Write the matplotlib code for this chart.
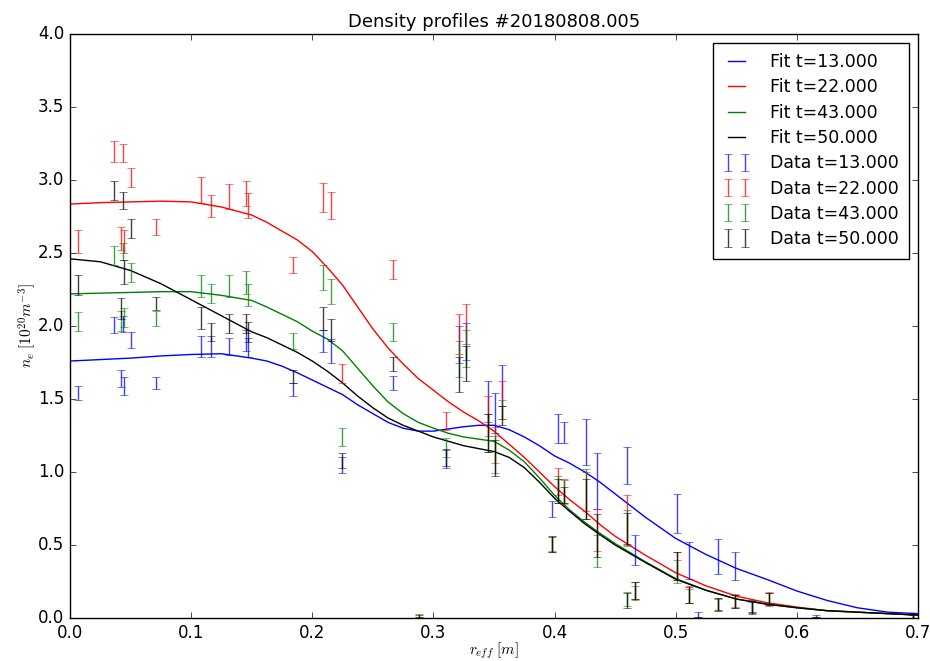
import numpy as np
import matplotlib
matplotlib.use('Agg')
import matplotlib.pyplot as plt

nan = np.nan

# channel positions (r_eff in m)
r_data = [0.0066, 0.0363, 0.0417, 0.0440, 0.0447, 0.0504, 0.0707, 0.108, 0.116, 0.1315,
          0.145, 0.147, 0.184, 0.209, 0.2155, 0.2243, 0.2664, 0.288, 0.310, 0.321,
          0.327, 0.345, 0.351, 0.357, 0.398, 0.403, 0.408, 0.426, 0.435, 0.4595,
          0.460, 0.466, 0.501, 0.511, 0.518, 0.535, 0.549, 0.563, 0.577, 0.616, 0.696]

# measured density and error for each time
ne_13 = [1.54, 2.005, 1.64, 2.015, 1.59, 1.905, 1.61, 1.86, 1.86, 1.86,
         1.90, 1.855, 1.565, 1.895, 1.83, 1.045, 1.61, 0.005, 1.09, 1.875,
         1.895, 1.48, 1.405, 1.59, 0.745, 1.30, 1.27, 1.205, 0.94, nan,
         1.045, 0.465, 0.715, 0.395, 0.02, 0.42, 0.355, 0.07, nan, 0.01, 0.01]
err_13 = [0.05, 0.055, 0.06, 0.055, 0.06, 0.055, 0.04, 0.07, 0.07, 0.06,
          0.07, 0.065, 0.045, 0.075, 0.08, 0.055, 0.05, 0.005, 0.06, 0.125,
          0.125, 0.14, 0.135, 0.14, 0.055, 0.10, 0.07, 0.155, 0.19, nan,
          0.125, 0.105, 0.135, 0.125, 0.02, 0.12, 0.095, 0.04, nan, 0.008, 0.008]

ne_22 = [2.58, 3.195, 2.60, 3.185, 2.58, 3.015, 2.675, 2.93, 2.825, 2.885,
         2.905, 2.825, 2.415, 2.88, 2.825, 1.675, 2.385, 0.005, 1.35, 1.945,
         2.015, 1.385, 1.185, 1.49, 0.505, 0.935, 0.865, 0.865, 0.605, nan,
         0.67, 0.19, 0.355, 0.16, 0.005, 0.095, 0.12, 0.08, 0.13, 0.005, 0.01]
err_22 = [0.08, 0.075, 0.08, 0.065, 0.08, 0.065, 0.055, 0.09, 0.075, 0.085,
          0.085, 0.085, 0.055, 0.10, 0.095, 0.065, 0.065, 0.005, 0.06, 0.135,
          0.135, 0.135, 0.125, 0.13, 0.055, 0.095, 0.085, 0.135, 0.145, nan,
          0.17, 0.06, 0.095, 0.06, 0.005, 0.045, 0.045, 0.04, 0.05, 0.005, 0.008]

ne_43 = [2.03, 2.485, 2.035, 2.51, 2.06, 2.365, 2.05, 2.275, 2.225, 2.275,
         2.30, 2.215, 1.895, 2.335, 2.235, 1.24, 1.96, 0.02, 1.165, 1.775,
         1.845, 1.27, 1.12, 1.425, 0.51, 0.88, 0.865, 0.85, 0.46, 0.13,
         0.615, 0.17, 0.32, 0.15, nan, 0.09, 0.115, 0.08, 0.13, 0.005, 0.01]
err_43 = [0.065, 0.065, 0.07, 0.06, 0.065, 0.065, 0.05, 0.075, 0.065, 0.075,
          0.08, 0.075, 0.055, 0.085, 0.085, 0.06, 0.06, 0.01, 0.065, 0.125,
          0.125, 0.13, 0.13, 0.065, 0.05, 0.09, 0.08, 0.17, 0.11, 0.05,
          0.125, 0.05, 0.08, 0.05, nan, 0.04, 0.045, 0.04, 0.04, 0.005, 0.008]

ne_50 = [2.28, 2.925, 2.12, 2.86, 2.37, 2.665, 2.155, 2.055, 1.96, 2.015,
         2.015, 1.96, 1.655, 2.05, 1.975, 1.08, 1.74, 0.01, 1.10, 1.67,
         1.74, 1.27, 1.095, 1.385, 0.505, 0.87, 0.845, 0.815, 0.565, 0.12,
         0.615, 0.19, 0.355, 0.155, 0.005, 0.095, 0.115, 0.075, 0.13, 0.005, 0.01]
err_50 = [0.07, 0.065, 0.07, 0.06, 0.08, 0.065, 0.045, 0.075, 0.06, 0.065,
          0.065, 0.07, 0.045, 0.08, 0.075, 0.05, 0.05, 0.01, 0.06, 0.12,
          0.12, 0.13, 0.125, 0.065, 0.05, 0.08, 0.055, 0.135, 0.145, 0.05,
          0.105, 0.06, 0.095, 0.055, 0.005, 0.04, 0.045, 0.04, 0.04, 0.005, 0.008]

# fitted profiles
r_fit = [0.0, 0.025, 0.05, 0.075, 0.1, 0.125,
         0.15, 0.1625, 0.175, 0.1875, 0.2, 0.2125, 0.225, 0.2375, 0.25, 0.2625,
         0.275, 0.2875, 0.3, 0.3125, 0.325, 0.3375, 0.35, 0.3625, 0.375, 0.3875,
         0.4, 0.4125, 0.425, 0.4375, 0.45,
         0.475, 0.5, 0.525, 0.55, 0.575, 0.6, 0.625, 0.65, 0.675, 0.7]
fit_13 = [1.76, 1.77, 1.78, 1.795, 1.805, 1.81,
          1.78, 1.76, 1.725, 1.68, 1.63, 1.58, 1.53, 1.46, 1.40, 1.34,
          1.30, 1.28, 1.28, 1.295, 1.31, 1.32, 1.32, 1.29, 1.24, 1.18,
          1.11, 1.06, 1.0, 0.93, 0.85,
          0.69, 0.545, 0.435, 0.34, 0.265, 0.185, 0.12, 0.07, 0.04, 0.03]
fit_22 = [2.835, 2.845, 2.85, 2.855, 2.85, 2.815,
          2.76, 2.71, 2.65, 2.59, 2.51, 2.40, 2.28, 2.13, 1.98, 1.85,
          1.74, 1.64, 1.56, 1.48, 1.41, 1.35, 1.28, 1.19, 1.10, 1.0,
          0.90, 0.81, 0.73, 0.64, 0.56,
          0.43, 0.31, 0.22, 0.15, 0.105, 0.075, 0.05, 0.04, 0.03, 0.02]
fit_43 = [2.22, 2.225, 2.23, 2.235, 2.235, 2.21,
          2.175, 2.13, 2.08, 2.03, 1.965, 1.91, 1.83, 1.71, 1.59, 1.48,
          1.40, 1.34, 1.30, 1.265, 1.24, 1.225, 1.21, 1.15, 1.07, 0.96,
          0.84, 0.74, 0.655, 0.58, 0.51,
          0.385, 0.27, 0.19, 0.13, 0.095, 0.07, 0.05, 0.04, 0.03, 0.02]
fit_50 = [2.46, 2.44, 2.38, 2.29, 2.18, 2.07,
          1.96, 1.92, 1.87, 1.82, 1.76, 1.69, 1.61, 1.52, 1.44, 1.37,
          1.32, 1.28, 1.24, 1.21, 1.18, 1.16, 1.14, 1.10, 1.03, 0.93,
          0.82, 0.73, 0.645, 0.57, 0.50,
          0.38, 0.265, 0.19, 0.13, 0.095, 0.07, 0.05, 0.04, 0.03, 0.02]

times = ['13.000', '22.000', '43.000', '50.000']
colors = ['b', 'r', 'g', 'k']

plt.style.use('classic')
fig = plt.figure(figsize=(9.3, 6.61), dpi=100)
ax = fig.add_axes([70/930, 43/661, 848/930, 584/661])

fits = [fit_13, fit_22, fit_43, fit_50]
data = [(ne_13, err_13), (ne_22, err_22), (ne_43, err_43), (ne_50, err_50)]

for t, c, f in zip(times, colors, fits):
    ax.plot(r_fit, f, color=c, linewidth=1.0, label='Fit t=' + t)

for t, c, (ne, err) in zip(times, colors, data):
    ax.errorbar(r_data, ne, yerr=err, fmt='none', ecolor=c, capsize=3,
                alpha=0.75, label='Data t=' + t)

ax.set_xlim(0.0, 0.7)
ax.set_ylim(0.0, 4.0)
ax.set_xticks(np.arange(0, 0.71, 0.1))
ax.set_yticks(np.arange(0, 4.01, 0.5))
ax.set_title('Density profiles #20180808.005', fontsize=13)
ax.set_xlabel(r'$r_{eff}\ [m]$', fontsize=11, labelpad=-1)
ax.set_ylabel(r'$n_e\ [10^{20}m^{-3}]$', fontsize=11, labelpad=0)
ax.legend(loc='upper right', numpoints=2, fontsize=12.5, borderpad=0.6,
          handlelength=1.55, handletextpad=1.15, labelspacing=0.42)

fig.savefig('out.png', dpi=100)
